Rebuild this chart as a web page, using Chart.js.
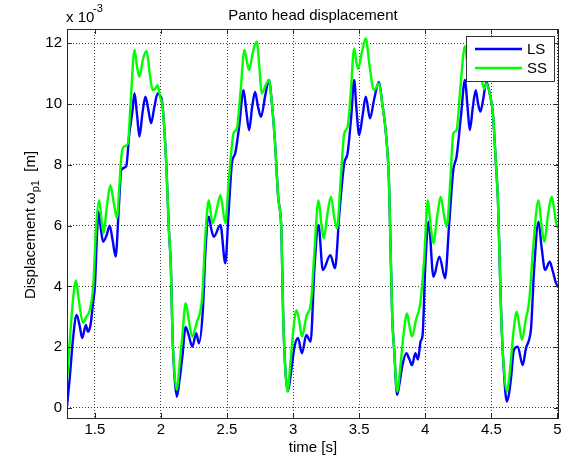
<!DOCTYPE html>
<html>
<head>
<meta charset="utf-8">
<script src="https://cdn.jsdelivr.net/npm/chart.js@4.4.0/dist/chart.umd.min.js"></script>
<style>
  html, body { margin: 0; padding: 0; background: #fff; }
  #wrap { width: 568px; height: 459px; }
</style>
</head>
<body>
<div id="wrap"><canvas id="panto-chart" width="568" height="459"></canvas></div>
<script>
// values, displacement in units of 1e-3 m
const lsTime = [1.289, 1.31, 1.335, 1.362, 1.385, 1.404, 1.432, 1.447, 1.467, 1.487, 1.5, 1.515, 1.527, 1.545, 1.562, 1.59, 1.612, 1.635, 1.657, 1.68, 1.7, 1.737, 1.76, 1.785, 1.8, 1.82, 1.837, 1.86, 1.882, 1.905, 1.925, 1.95, 1.975, 1.99, 2.01, 2.04, 2.06, 2.075, 2.087, 2.1, 2.12, 2.14, 2.162, 2.187, 2.21, 2.237, 2.267, 2.287, 2.317, 2.337, 2.362, 2.38, 2.4, 2.45, 2.487, 2.51, 2.537, 2.562, 2.59, 2.625, 2.645, 2.667, 2.69, 2.712, 2.735, 2.757, 2.79, 2.817, 2.84, 2.862, 2.887, 2.912, 2.925, 2.94, 2.96, 2.985, 3.01, 3.037, 3.067, 3.1, 3.132, 3.162, 3.192, 3.225, 3.282, 3.317, 3.35, 3.387, 3.412, 3.44, 3.462, 3.48, 3.5, 3.525, 3.55, 3.582, 3.615, 3.65, 3.675, 3.7, 3.725, 3.735, 3.75, 3.765, 3.787, 3.805, 3.825, 3.857, 3.88, 3.9, 3.925, 3.945, 3.965, 3.98, 4.0, 4.025, 4.062, 4.107, 4.15, 4.18, 4.212, 4.237, 4.27, 4.3, 4.32, 4.337, 4.36, 4.382, 4.4, 4.417, 4.44, 4.462, 4.49, 4.512, 4.535, 4.55, 4.562, 4.575, 4.595, 4.617, 4.635, 4.65, 4.67, 4.7, 4.737, 4.762, 4.785, 4.8, 4.825, 4.857, 4.88, 4.907, 4.942, 4.965, 4.99, 5.012];
const lsValues = [0.05, 1.0, 2.3, 3.06, 2.7, 2.3, 2.73, 2.51, 2.73, 3.5, 4.0, 5.6, 6.46, 5.9, 5.47, 5.7, 6.0, 5.5, 4.98, 6.5, 7.83, 7.95, 9.0, 9.8, 10.36, 9.6, 8.93, 9.7, 10.24, 9.8, 9.37, 9.9, 10.35, 10.3, 10.03, 8.05, 5.86, 4.65, 2.46, 1.2, 0.37, 0.9, 1.69, 2.67, 2.4, 2.02, 2.46, 2.13, 3.22, 5.2, 6.29, 5.9, 5.63, 6.02, 4.76, 6.3, 8.05, 8.38, 9.2, 10.46, 9.8, 9.14, 9.9, 10.4, 9.9, 9.58, 10.3, 10.79, 10.0, 8.8, 6.95, 5.75, 3.0, 1.36, 0.55, 1.2, 2.0, 2.3, 1.8, 2.4, 2.18, 4.65, 6.02, 4.54, 5.03, 4.6, 6.4, 8.05, 8.38, 9.6, 10.79, 9.8, 8.98, 9.6, 10.24, 9.53, 10.2, 10.73, 10.0, 9.14, 7.5, 5.75, 3.0, 1.9, 0.43, 0.8, 1.36, 1.8, 1.6, 1.41, 1.8, 1.6, 2.2, 2.4, 4.65, 6.13, 4.32, 4.98, 4.27, 6.0, 7.83, 8.27, 9.6, 10.79, 9.9, 9.14, 9.9, 10.46, 10.0, 9.75, 10.2, 10.73, 10.3, 9.69, 8.0, 6.84, 4.98, 3.0, 1.2, 0.21, 0.5, 1.03, 1.9, 2.02, 1.41, 1.96, 2.24, 2.6, 4.65, 6.13, 5.3, 4.54, 4.81, 4.5, 4.1, 4.0];

const ssTime = [1.289, 1.31, 1.335, 1.357, 1.38, 1.41, 1.435, 1.46, 1.487, 1.51, 1.532, 1.55, 1.565, 1.59, 1.617, 1.645, 1.667, 1.685, 1.7, 1.72, 1.75, 1.77, 1.8, 1.82, 1.837, 1.865, 1.892, 1.915, 1.937, 1.955, 1.975, 1.995, 2.01, 2.04, 2.06, 2.075, 2.087, 2.1, 2.12, 2.14, 2.162, 2.187, 2.21, 2.237, 2.27, 2.312, 2.337, 2.362, 2.39, 2.42, 2.45, 2.487, 2.51, 2.55, 2.575, 2.6, 2.632, 2.65, 2.667, 2.695, 2.725, 2.745, 2.762, 2.79, 2.817, 2.84, 2.862, 2.887, 2.912, 2.925, 2.94, 2.957, 2.98, 3.0, 3.025, 3.045, 3.067, 3.1, 3.137, 3.162, 3.192, 3.215, 3.232, 3.26, 3.287, 3.31, 3.332, 3.36, 3.387, 3.412, 3.435, 3.462, 3.478, 3.492, 3.52, 3.55, 3.58, 3.612, 3.63, 3.65, 3.675, 3.7, 3.725, 3.735, 3.75, 3.765, 3.787, 3.81, 3.835, 3.862, 3.88, 3.9, 3.93, 3.962, 3.99, 4.02, 4.04, 4.062, 4.09, 4.117, 4.14, 4.162, 4.19, 4.212, 4.237, 4.265, 4.3, 4.32, 4.34, 4.365, 4.39, 4.42, 4.445, 4.462, 4.49, 4.512, 4.535, 4.55, 4.562, 4.575, 4.595, 4.617, 4.64, 4.665, 4.692, 4.712, 4.732, 4.76, 4.787, 4.815, 4.857, 4.88, 4.9, 4.93, 4.957, 4.98, 4.99, 5.012];
const ssValues = [0.9, 2.2, 3.6, 4.2, 3.5, 2.8, 3.0, 3.2, 4.0, 6.0, 6.84, 6.2, 5.75, 6.6, 7.33, 6.7, 6.25, 7.3, 8.27, 8.6, 8.7, 10.0, 11.78, 11.2, 10.9, 11.5, 11.75, 11.0, 10.46, 10.5, 10.62, 10.2, 10.0, 8.05, 5.86, 4.65, 2.46, 1.3, 0.6, 1.4, 2.4, 3.45, 2.9, 2.35, 2.8, 3.66, 5.75, 6.84, 6.08, 6.5, 7.0, 6.08, 7.3, 9.05, 9.2, 10.3, 11.78, 11.4, 11.12, 11.7, 12.05, 11.2, 10.35, 10.6, 10.79, 10.0, 8.8, 6.95, 5.75, 3.0, 1.36, 0.54, 1.5, 2.5, 3.22, 2.9, 2.35, 3.0, 3.55, 5.2, 6.84, 6.0, 5.58, 6.4, 6.95, 6.3, 5.91, 7.5, 9.03, 9.25, 10.3, 11.83, 11.4, 11.17, 11.7, 12.16, 11.2, 10.46, 10.55, 10.68, 10.0, 9.14, 7.5, 5.75, 3.0, 1.9, 0.54, 1.3, 2.4, 3.11, 2.7, 2.35, 2.9, 3.44, 4.8, 6.84, 6.0, 5.42, 6.3, 6.95, 6.4, 5.96, 7.5, 9.03, 9.14, 10.5, 11.9, 11.3, 11.0, 11.6, 12.0, 11.0, 10.5, 10.68, 10.3, 9.69, 8.0, 6.84, 4.98, 3.0, 1.3, 0.54, 1.2, 2.4, 3.17, 2.7, 2.24, 2.9, 3.55, 5.2, 6.84, 6.0, 5.47, 6.4, 6.95, 6.4, 6.07, 5.9];

const seriesNames = ["LS", "SS"];
const seriesColors = ["#0000ff", "#00ff00"];
const xTicks = [1.5, 2, 2.5, 3, 3.5, 4, 4.5, 5];
const yTicks = [0, 2, 4, 6, 8, 10, 12];

const FONT = "'Liberation Sans', Arial, Helvetica, sans-serif";

function toPoints(times, values) {
  return times.map((t, i) => ({ x: t, y: values[i] }));
}

// MATLAB style extras: box, inward ticks, labels, exponent, legend
const matlabDecor = {
  id: "matlabDecor",
  afterDatasetsDraw(chart) {
    const ctx = chart.ctx;
    const a = chart.chartArea;
    const xs = chart.scales.x;
    const ys = chart.scales.y;
    ctx.save();

    // axes box
    ctx.strokeStyle = "#262626";
    ctx.lineWidth = 1;
    ctx.strokeRect(Math.round(a.left) + 0.5, Math.round(a.top) + 0.5,
      Math.round(a.right - a.left) - 1, Math.round(a.bottom - a.top));

    // inward ticks
    const tl = 5;
    ctx.beginPath();
    xTicks.forEach((v) => {
      const px = Math.round(xs.getPixelForValue(v)) + 0.5;
      ctx.moveTo(px, a.bottom); ctx.lineTo(px, a.bottom - tl);
      ctx.moveTo(px, a.top); ctx.lineTo(px, a.top + tl);
    });
    yTicks.forEach((v) => {
      const py = Math.round(ys.getPixelForValue(v)) + 0.5;
      ctx.moveTo(a.left, py); ctx.lineTo(a.left + tl, py);
      ctx.moveTo(a.right, py); ctx.lineTo(a.right - tl, py);
    });
    ctx.stroke();

    // legend
    const lx = 466.5, ly = 36.5, lw = 88, lh = 45;
    ctx.fillStyle = "#fff";
    ctx.fillRect(lx, ly, lw, lh);
    ctx.strokeStyle = "#333";
    ctx.strokeRect(lx, ly, lw, lh);
    ctx.font = "15px " + FONT;
    ctx.textBaseline = "middle";
    ctx.textAlign = "left";
    seriesNames.forEach((name, i) => {
      const yy = 49 + i * 19;
      ctx.strokeStyle = seriesColors[i];
      ctx.lineWidth = 2.4;
      ctx.beginPath();
      ctx.moveTo(475, yy); ctx.lineTo(522, yy);
      ctx.stroke();
      ctx.fillStyle = "#000";
      ctx.fillText(name, 527, yy + 1);
    });

    // title and x label
    ctx.fillStyle = "#000";
    ctx.textAlign = "center";
    ctx.textBaseline = "alphabetic";
    ctx.font = "15px " + FONT;
    ctx.fillText("Panto head displacement", (a.left + a.right) / 2, 20);
    ctx.fillText("time [s]", (a.left + a.right) / 2, 452);

    // exponent
    ctx.textAlign = "left";
    ctx.font = "15px " + FONT;
    ctx.fillText("x 10", 66, 22);
    ctx.font = "11px " + FONT;
    ctx.fillText("-3", 93, 12);

    // y label with subscript, rotated
    ctx.translate(35, 225);
    ctx.rotate(-Math.PI / 2);
    const parts = [
      { t: "Displacement \u03c9", f: "15px " + FONT, dy: 0 },
      { t: "p1", f: "11px " + FONT, dy: 4 },
      { t: "  [m]", f: "15px " + FONT, dy: 0 },
    ];
    let total = 0;
    parts.forEach((p) => { ctx.font = p.f; p.w = ctx.measureText(p.t).width; total += p.w; });
    let cx = -total / 2;
    parts.forEach((p) => {
      ctx.font = p.f;
      ctx.fillText(p.t, cx, p.dy);
      cx += p.w;
    });
    ctx.restore();
  },
};

new Chart(document.getElementById("panto-chart").getContext("2d"), {
  type: "line",
  data: {
    datasets: [
      {
        label: seriesNames[0],
        data: toPoints(lsTime, lsValues),
        borderColor: seriesColors[0],
        borderWidth: 2.4,
        pointRadius: 0,
        cubicInterpolationMode: "monotone",
        fill: false,
        order: 1,
      },
      {
        label: seriesNames[1],
        data: toPoints(ssTime, ssValues),
        borderColor: seriesColors[1],
        borderWidth: 2.4,
        pointRadius: 0,
        cubicInterpolationMode: "monotone",
        fill: false,
        order: 0,
      },
    ],
  },
  options: {
    responsive: false,
    animation: false,
    layout: { padding: { top: 29, right: 9, left: 0, bottom: 0 } },
    plugins: { legend: { display: false }, tooltip: { enabled: false }, title: { display: false } },
    scales: {
      x: {
        type: "linear",
        min: 1.289,
        max: 5.012,
        afterBuildTicks: (s) => { s.ticks = xTicks.map((v) => ({ value: v })); },
        afterFit: (s) => { s.height = 41; },
        ticks: { color: "#000", font: { family: FONT, size: 15 }, padding: 3, maxRotation: 0, autoSkip: false,
          callback: (v) => String(v) },
        grid: { color: "rgba(0,0,0,0.75)", drawTicks: false, lineWidth: 1 },
        border: { display: false, dash: [1, 2] },
      },
      y: {
        min: -0.33,
        max: 12.47,
        afterBuildTicks: (s) => { s.ticks = yTicks.map((v) => ({ value: v })); },
        afterFit: (s) => { s.width = 67; },
        ticks: { color: "#000", font: { family: FONT, size: 15 }, padding: 5, autoSkip: false,
          callback: (v) => String(v) },
        grid: { color: "rgba(0,0,0,0.75)", drawTicks: false, lineWidth: 1 },
        border: { display: false, dash: [1, 2] },
      },
    },
  },
  plugins: [matlabDecor],
});
</script>
</body>
</html>
